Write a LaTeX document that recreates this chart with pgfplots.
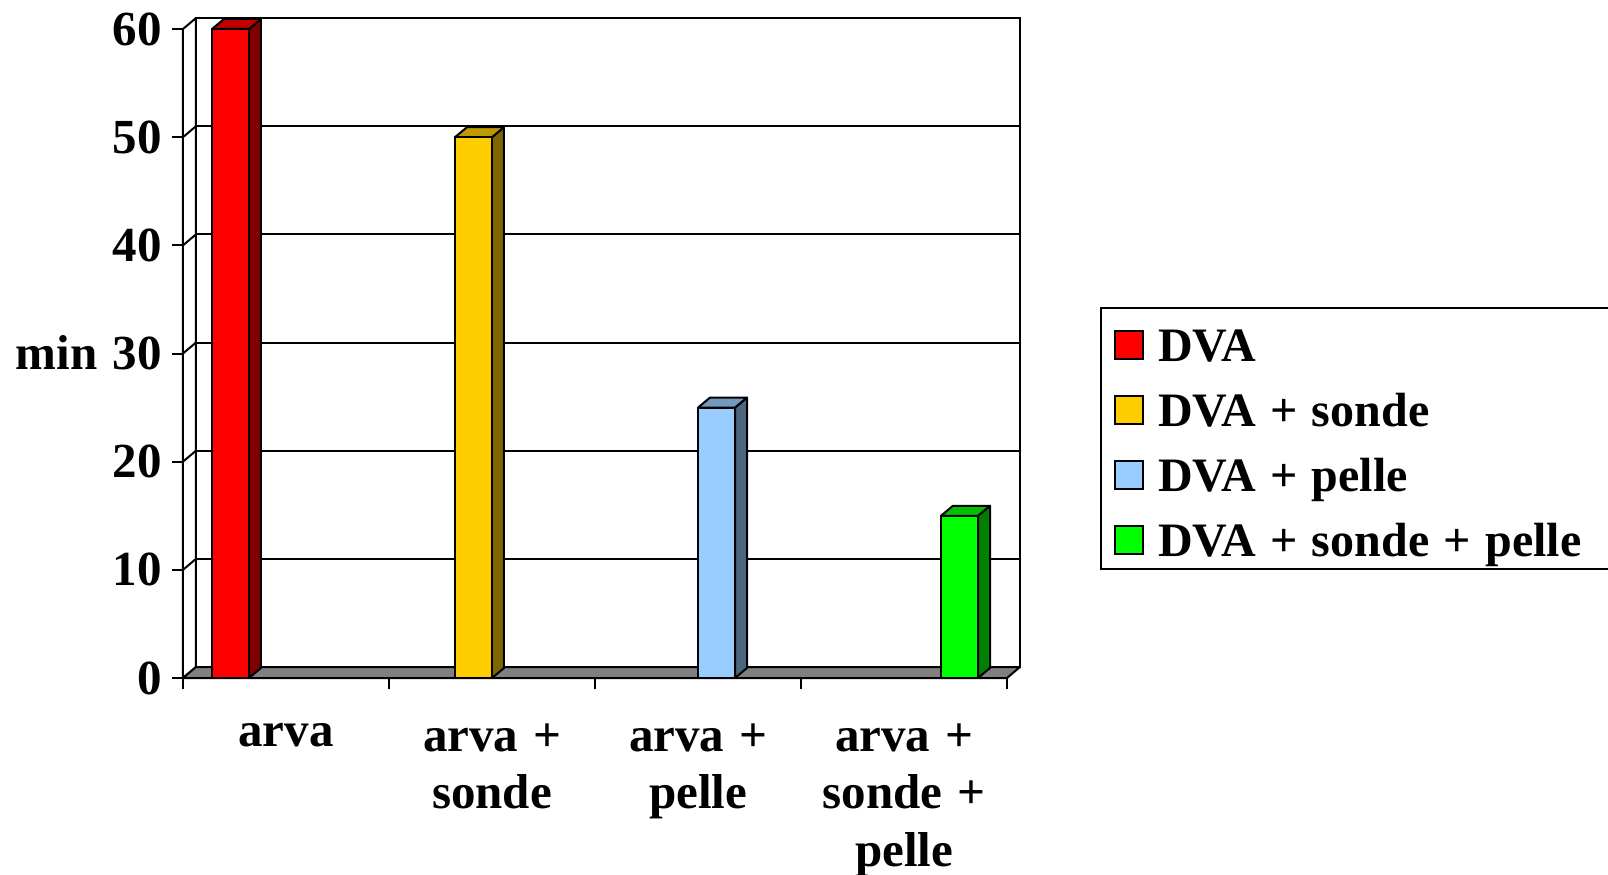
\documentclass[border=0pt]{standalone}
\usepackage{fontspec}
\setmainfont{Liberation Serif}[WordSpace=1.2]
\usepackage{pgfplots}
\pgfplotsset{compat=1.18}

\definecolor{redF}{HTML}{FF0000}
\definecolor{redT}{HTML}{C00000}
\definecolor{redS}{HTML}{800000}
\definecolor{yelF}{HTML}{FFCC00}
\definecolor{yelT}{HTML}{BF9900}
\definecolor{yelS}{HTML}{806600}
\definecolor{bluF}{HTML}{99CCFF}
\definecolor{bluT}{HTML}{7399BF}
\definecolor{bluS}{HTML}{4D6680}
\definecolor{grnF}{HTML}{00FF00}
\definecolor{grnT}{HTML}{00C000}
\definecolor{grnS}{HTML}{008000}
\definecolor{floorgray}{HTML}{808080}

\pgfdeclareplotmark{nothing}{}

% 3D bar drawn at the data point: #1 left, #2 right (pt), #3 front, #4 top, #5 side
\newcommand\barthreed[5]{%
  \pgfkeys{/pgf/fpu=true,/pgf/fpu/output format=fixed}%
  \pgfmathparse{\rawy*324.5/60}%
  \global\let\bh\pgfmathresult
  \pgfkeys{/pgf/fpu=false}%
  \filldraw[fill=#5,draw=black,line width=1pt,line join=round]
    (#2pt,0pt) -- (#2pt+6pt,5pt) -- (#2pt+6pt,-\bh pt+5pt) -- (#2pt,-\bh pt) -- cycle;
  \filldraw[fill=#4,draw=black,line width=1pt,line join=round]
    (#1pt,0pt) -- (#2pt,0pt) -- (#2pt+6pt,5pt) -- (#1pt+6pt,5pt) -- cycle;
  \filldraw[fill=#3,draw=black,line width=1pt,line join=round]
    (#1pt,-\bh pt) rectangle (#2pt,0pt);
}

\begin{document}
\begin{tikzpicture}
\useasboundingbox (-91.5pt,-98pt) rectangle (712.5pt,339pt);
\clip (-91.5pt,-98pt) rectangle (712.5pt,339pt);
\begin{axis}[
  at={(0pt,0pt)}, anchor=south west,
  scale only axis, width=412pt, height=324.5pt,
  xmin=-0.5, xmax=3.5, ymin=0, ymax=60,
  clip=false,
  axis line style={draw=none},
  tick style={black, line width=1pt},
  major tick length=5.5pt,
  tick align=outside,
  ytick pos=left, xtick pos=bottom,
  ytick={0,10,20,30,40,50,60},
  xtick={-0.5,0.5,1.5,2.5,3.5},
  xticklabels={},
  extra x ticks={0,1,2,3},
  extra x tick labels={arva,{arva +\\sonde},{arva +\\pelle},{arva +\\sonde +\\pelle}},
  extra x tick style={major tick length=0pt, grid=none},
  /pgf/number format/assume math mode=true,
  yticklabel style={font=\bfseries\fontsize{24.5}{29}\selectfont, inner sep=0pt, xshift=-5pt},
  xticklabel style={font=\bfseries\fontsize{24.5}{28.75}\selectfont, align=center, inner sep=0pt, anchor=north, yshift=-22.5pt},
  ylabel={min},
  every axis y label/.style={at={(axis description cs:0,0.4746)}, xshift=-42.5pt, anchor=base east, inner sep=0pt, font=\bfseries\fontsize{24.5}{29}\selectfont},
  legend style={at={(axis description cs:1.1129,0.5716)}, anchor=north west,
    draw=black, line width=1pt, fill=white,
    inner xsep=6.5pt, inner ysep=4pt, row sep=7.5pt,
    font=\bfseries\fontsize{24}{28}\selectfont,
    nodes={inner sep=0pt, text height=22.5pt, text depth=2.5pt},
    /tikz/every odd column/.append style={column sep=7pt}},
  legend cell align=left,
]
% back wall
\filldraw[fill=white,draw=black,line width=1pt]
  ([xshift=6.5pt,yshift=5.5pt]axis cs:-0.5,0) rectangle ([xshift=6.5pt,yshift=5.5pt]axis cs:3.5,60);
% left side wall
\filldraw[fill=white,draw=black,line width=1pt,line join=round]
  (axis cs:-0.5,0) -- (axis cs:-0.5,60) -- ([xshift=6.5pt,yshift=5.5pt]axis cs:-0.5,60) -- ([xshift=6.5pt,yshift=5.5pt]axis cs:-0.5,0) -- cycle;
% grid lines on the back wall and connectors on the side wall
\pgfplotsinvokeforeach{10,20,30,40,50}{
  \draw[black,line width=1pt] ([xshift=6.5pt,yshift=5.5pt]axis cs:-0.5,#1) -- ([xshift=6.5pt,yshift=5.5pt]axis cs:3.5,#1);
  \draw[black,line width=1pt] (axis cs:-0.5,#1) -- ([xshift=6.5pt,yshift=5.5pt]axis cs:-0.5,#1);
}
% floor
\filldraw[fill=floorgray,draw=black,line width=1pt,line join=round]
  (axis cs:-0.5,0) -- (axis cs:3.5,0) -- ([xshift=6.5pt,yshift=5.5pt]axis cs:3.5,0) -- ([xshift=6.5pt,yshift=5.5pt]axis cs:-0.5,0) -- cycle;
% front axis lines
\draw[black,line width=1pt] (axis cs:-0.5,60) -- (axis cs:-0.5,0) -- (axis cs:3.5,0);

\addplot[scatter, only marks, mark=nothing,
  visualization depends on={rawy \as \rawy},
  scatter/@pre marker code/.code={\barthreed{-37}{-18.5}{redF}{redT}{redS}},
  scatter/@post marker code/.code={},
  legend image code/.code={\filldraw[fill=redF,draw=black,line width=1pt] (0pt,-9pt) rectangle (14pt,5pt);}]
  coordinates {(0,60)};
\addlegendentry{DVA}
\addplot[scatter, only marks, mark=nothing,
  visualization depends on={rawy \as \rawy},
  scatter/@pre marker code/.code={\barthreed{-18.5}{0}{yelF}{yelT}{yelS}},
  scatter/@post marker code/.code={},
  legend image code/.code={\filldraw[fill=yelF,draw=black,line width=1pt] (0pt,-9pt) rectangle (14pt,5pt);}]
  coordinates {(1,50)};
\addlegendentry{DVA + sonde}
\addplot[scatter, only marks, mark=nothing,
  visualization depends on={rawy \as \rawy},
  scatter/@pre marker code/.code={\barthreed{0}{18.5}{bluF}{bluT}{bluS}},
  scatter/@post marker code/.code={},
  legend image code/.code={\filldraw[fill=bluF,draw=black,line width=1pt] (0pt,-9pt) rectangle (14pt,5pt);}]
  coordinates {(2,25)};
\addlegendentry{DVA + pelle}
\addplot[scatter, only marks, mark=nothing,
  visualization depends on={rawy \as \rawy},
  scatter/@pre marker code/.code={\barthreed{18.5}{37}{grnF}{grnT}{grnS}},
  scatter/@post marker code/.code={},
  legend image code/.code={\filldraw[fill=grnF,draw=black,line width=1pt] (0pt,-9pt) rectangle (14pt,5pt);}]
  coordinates {(3,15)};
\addlegendentry{DVA + sonde + pelle\hspace*{30pt}}
\end{axis}
\end{tikzpicture}
\end{document}
